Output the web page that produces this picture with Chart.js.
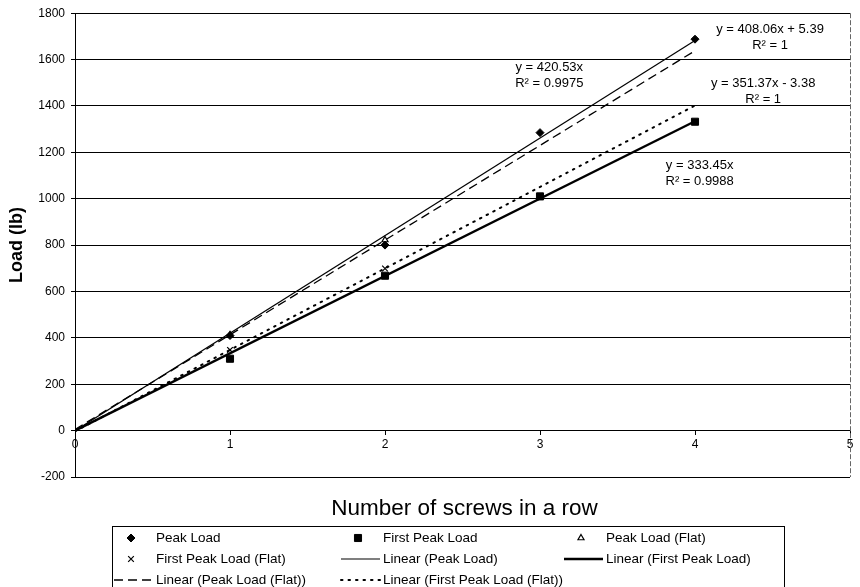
<!DOCTYPE html>
<html>
<head>
<meta charset="utf-8">
<script src="https://cdn.jsdelivr.net/npm/chart.js@4.4.1/dist/chart.umd.min.js"></script>
<style>
html,body{margin:0;padding:0;background:#fff;}
#wrap{width:860px;height:587px;position:relative;}
</style>
</head>
<body>
<div id="wrap"><canvas id="c"></canvas></div>
<script>
// ---- data ----
const screws = [1, 2, 3, 4];
const peakLoad = [410, 800, 1285, 1688];
const firstPeakLoad = [310, 668, 1010, 1332];
const screwsFlat = [1, 2];
const peakLoadFlat = [413, 822];
const firstPeakLoadFlat = [348, 699];
const trendX = [0, 4];
const trendPeak = [0, 1682];
const trendFirstPeak = [0, 1334];
const trendPeakFlat = [5, 1638];
const trendFirstPeakFlat = [-3, 1402];
const xTicks = [0, 1, 2, 3, 4, 5];
const yTicks = [-200, 0, 200, 400, 600, 800, 1000, 1200, 1400, 1600, 1800];
const seriesNames = ['Peak Load', 'First Peak Load', 'Peak Load (Flat)', 'First Peak Load (Flat)',
  'Linear (Peak Load)', 'Linear (First Peak Load)', 'Linear (Peak Load (Flat))', 'Linear (First Peak Load (Flat))'];
const equationTexts = [
  ['y = 408.06x + 5.39', 'R\u00B2 = 1'],
  ['y = 351.37x - 3.38', 'R\u00B2 = 1'],
  ['y = 420.53x', 'R\u00B2 = 0.9975'],
  ['y = 333.45x', 'R\u00B2 = 0.9988']
];
const xTitle = 'Number of screws in a row';
const yTitle = 'Load (lb)';

const FONT = "'Liberation Sans', Arial, Helvetica, sans-serif";
Chart.defaults.font.family = FONT;
Chart.defaults.color = '#000';

const pts = (xs, ys) => xs.map((x, i) => ({x: x, y: ys[i]}));

const datasets = [
  {label: seriesNames[0], data: pts(screws, peakLoad), pointStyle: 'rectRot', pointRadius: 4,
   backgroundColor: '#000', borderColor: '#000', borderWidth: 1, showLine: false},
  {label: seriesNames[1], data: pts(screws, firstPeakLoad), pointStyle: 'rect', pointRadius: 5,
   backgroundColor: '#000', borderColor: '#000', borderWidth: 1, showLine: false},
  {label: seriesNames[2], data: pts(screwsFlat, peakLoadFlat), pointStyle: 'triangle', pointRadius: 3.5,
   backgroundColor: '#fff', borderColor: '#000', borderWidth: 1.2, showLine: false},
  {label: seriesNames[3], data: pts(screwsFlat, firstPeakLoadFlat), pointStyle: 'crossRot', pointRadius: 4,
   backgroundColor: '#000', borderColor: '#000', borderWidth: 1.2, showLine: false},
  {label: seriesNames[4], data: pts(trendX, trendPeak), showLine: true, pointRadius: 0,
   borderColor: '#000', borderWidth: 1.2, borderDash: []},
  {label: seriesNames[5], data: pts(trendX, trendFirstPeak), showLine: true, pointRadius: 0,
   borderColor: '#000', borderWidth: 2.4, borderDash: []},
  {label: seriesNames[6], data: pts(trendX, trendPeakFlat), showLine: true, pointRadius: 0,
   borderColor: '#000', borderWidth: 1.3, borderDash: [9, 5]},
  {label: seriesNames[7], data: pts(trendX, trendFirstPeakFlat), showLine: true, pointRadius: 0,
   borderColor: '#000', borderWidth: 2, borderDash: [1.5, 6], borderCapStyle: 'round'}
];

// anchor (data units) for each equation label, centred text
const eqAnchors = [[4.484, 1730], [4.44, 1498], [3.06, 1565], [4.03, 1142]];

function drawMarker(ctx, ds, x, y) {
  ctx.save();
  ctx.fillStyle = ds.backgroundColor; ctx.strokeStyle = ds.borderColor; ctx.lineWidth = ds.borderWidth;
  const r = ds.pointRadius;
  ctx.beginPath();
  if (ds.pointStyle === 'rectRot') {
    ctx.moveTo(x, y - r); ctx.lineTo(x + r, y); ctx.lineTo(x, y + r); ctx.lineTo(x - r, y); ctx.closePath();
    ctx.fill(); ctx.stroke();
  } else if (ds.pointStyle === 'rect') {
    const s = r * Math.SQRT1_2; ctx.rect(x - s, y - s, 2 * s, 2 * s); ctx.fill(); ctx.stroke();
  } else if (ds.pointStyle === 'triangle') {
    ctx.moveTo(x, y - r); ctx.lineTo(x + r * 0.87, y + r * 0.5); ctx.lineTo(x - r * 0.87, y + r * 0.5); ctx.closePath();
    ctx.fill(); ctx.stroke();
  } else {
    const s = r * Math.SQRT1_2;
    ctx.moveTo(x - s, y - s); ctx.lineTo(x + s, y + s); ctx.moveTo(x + s, y - s); ctx.lineTo(x - s, y + s); ctx.stroke();
  }
  ctx.restore();
}

const annotPlugin = {
  id: 'annot',
  afterDraw(chart) {
    const ctx = chart.ctx;
    const xs = chart.scales.x, ys = chart.scales.y;
    const ca = chart.chartArea;
    ctx.save();
    // right border of plot area
    ctx.strokeStyle = '#666'; ctx.lineWidth = 1; ctx.setLineDash([5, 2]);
    ctx.beginPath(); ctx.moveTo(Math.round(ca.right) + 0.5, ca.top); ctx.lineTo(Math.round(ca.right) + 0.5, ca.bottom); ctx.stroke();
    ctx.setLineDash([]);
    // equations
    ctx.fillStyle = '#000'; ctx.font = '13px ' + FONT; ctx.textAlign = 'center'; ctx.textBaseline = 'middle';
    equationTexts.forEach((lines, i) => {
      const px = xs.getPixelForValue(eqAnchors[i][0]), py = ys.getPixelForValue(eqAnchors[i][1]);
      lines.forEach((t, j) => ctx.fillText(t, px, py + j * 16));
    });
    // x title
    ctx.font = '22.5px ' + FONT;
    ctx.fillText(xTitle, (ca.left + ca.right) / 2 + 2, 509);
    // legend
    const L = 112, R = 784, T = 526, B = 587;
    ctx.strokeStyle = '#000'; ctx.lineWidth = 1;
    ctx.strokeRect(L + 0.5, T + 0.5, R - L, B - T + 4);
    const colX = [156, 383, 606];
    const rowY = [538, 559, 580];
    ctx.font = '13.5px ' + FONT; ctx.textAlign = 'left';
    chart.data.datasets.forEach((ds, i) => {
      const tx = colX[i % 3], ty = rowY[Math.floor(i / 3)];
      if (ds.showLine) {
        ctx.save();
        ctx.strokeStyle = ds.borderColor; ctx.lineWidth = ds.borderWidth;
        ctx.setLineDash(ds.borderDash || []); ctx.lineCap = ds.borderCapStyle || 'butt';
        ctx.beginPath(); ctx.moveTo(tx - 42, ty); ctx.lineTo(tx - 3, ty); ctx.stroke();
        ctx.restore();
      } else {
        drawMarker(ctx, ds, tx - 25, ty);
      }
      ctx.fillStyle = '#000';
      ctx.fillText(ds.label, tx, ty);
    });
    ctx.restore();
  }
};

new Chart(document.getElementById('c'), {
  type: 'scatter',
  data: {datasets: datasets},
  plugins: [annotPlugin],
  options: {
    responsive: true,
    maintainAspectRatio: false,
    animation: false,
    layout: {padding: {left: 0, right: 10, top: 10, bottom: 110}},
    plugins: {legend: {display: false}, tooltip: {enabled: false}},
    scales: {
      x: {
        type: 'linear', position: {y: 0}, min: xTicks[0], max: xTicks[xTicks.length - 1],
        afterBuildTicks: (s) => { s.ticks = xTicks.map(v => ({value: v})); },
        ticks: {font: {size: 12}, color: '#000', padding: 3, maxRotation: 0, callback: (v) => String(v)},
        grid: {drawOnChartArea: false, drawTicks: true, tickLength: 4, color: '#000'},
        border: {display: true, color: '#000', width: 1}
      },
      y: {
        type: 'linear', position: 'left', min: yTicks[0], max: yTicks[yTicks.length - 1],
        afterBuildTicks: (s) => { s.ticks = yTicks.map(v => ({value: v})); },
        afterFit: (s) => { s.width = 75; },
        ticks: {font: {size: 12}, color: '#000', padding: 6, callback: (v) => String(v)},
        grid: {color: '#000', lineWidth: 1, tickLength: 4, tickColor: '#000'},
        border: {display: true, color: '#000', width: 1},
        title: {display: true, text: yTitle, font: {size: 18, weight: 'bold'}, color: '#000', padding: {top: 6, bottom: 0}}
      }
    }
  }
});
</script>
</body>
</html>
